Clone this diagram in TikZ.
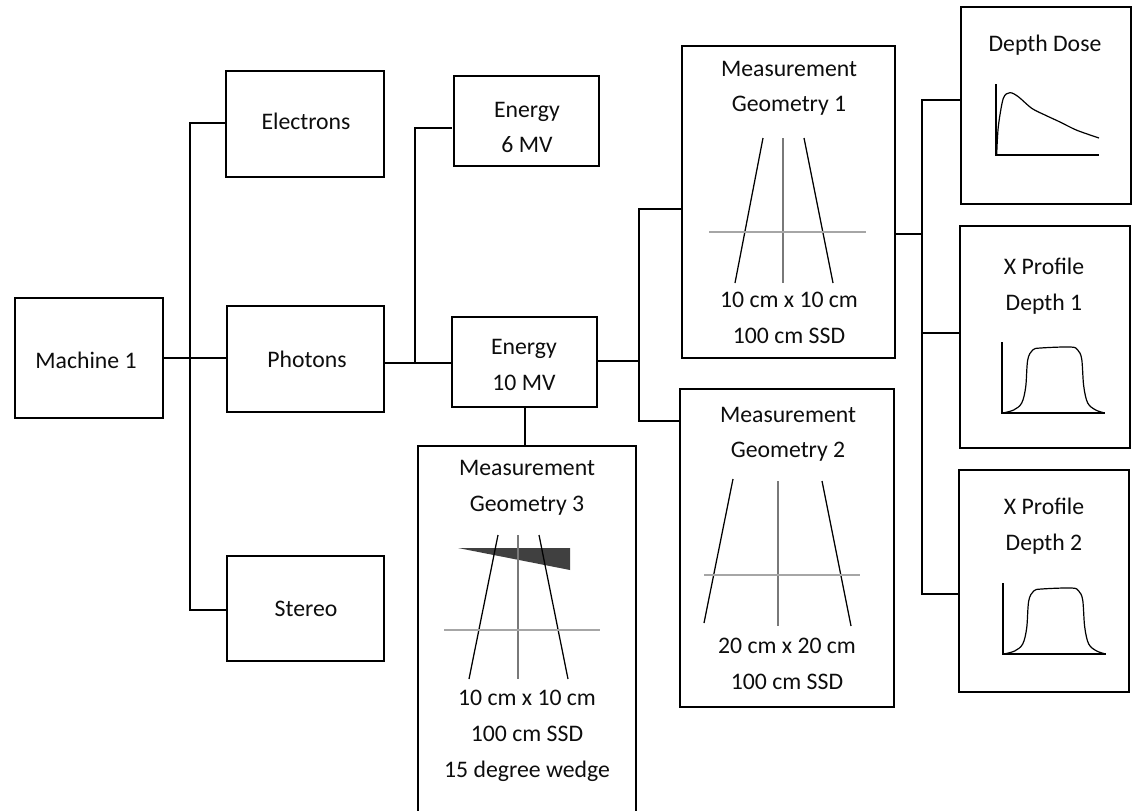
\documentclass[tikz,border=0pt]{standalone}
\usepackage{fontspec}
\setmainfont{Carlito}
\tikzset{
  boxs/.style={draw=black,line width=1.5pt,fill=none,rectangle,inner sep=0pt,outer sep=0pt},
  txt/.style={align=center,inner sep=0pt,yshift=-1.4pt,text=black!95,font=\fontsize{17.8}{26.8}\selectfont},
  conn/.style={draw=black,line width=1.5pt,line cap=rect},
  beam/.style={draw=black,line width=0.95pt},
  axisv/.style={draw=gray!95!black,line width=1.5pt},
  axish/.style={draw=gray!70,line width=1.5pt},
  plotaxis/.style={draw=black,line width=1.5pt},
  curve/.style={draw=black,line width=0.9pt},
}
\newcommand{\bx}[5]{\node[boxs,minimum width={(#4-#2)*0.75pt},minimum height={(#5-#3)*0.75pt}] (#1) at ({(#2+#4)/2},{(#3+#5)/2}) {};}
\newcommand{\profile}[2]{\begin{scope}[shift={(#1,#2)}]
  \draw[plotaxis] (0,-71) -- (0,0) -- (103,0);
  \draw[curve] plot[smooth,tension=0.55] coordinates {(1,0) (12,-3) (20,-10) (24,-26) (26,-53) (31,-63) (39,-65) (69,-66) (76,-63) (80,-54) (82,-27) (86,-10) (94,-3) (103,0)};
\end{scope}}
\newcommand{\geom}[8]{% x-left top, x-left bottom, x-right top, x-right bottom, xc, ytop, ybot; hline
  \draw[beam] (#1,#6) -- (#2,#7);
  \draw[beam] (#3,#6) -- (#4,#7);
  \draw[axisv] (#5,#6) -- (#5,#7);
  #8}
\begin{document}
\begin{tikzpicture}[x=0.75pt,y=-0.75pt]
\useasboundingbox (0,0) rectangle (1133,811);
\clip (0,0) rectangle (1133,811);
\bx{machine}{15}{298}{163}{418}
\bx{electrons}{226}{71}{384}{177}
\bx{photons}{227}{306}{384}{412}
\bx{stereo}{227}{556}{384}{661}
\bx{esix}{454}{76}{599}{166}
\bx{eten}{452}{317}{597}{407}
\bx{gthree}{418}{446}{636}{840}
\bx{gone}{682}{46}{895}{358}
\bx{gtwo}{680}{389}{894}{707}
\bx{dose}{961}{7}{1131}{204}
\bx{xone}{960}{226}{1130}{448}
\bx{xtwo}{959}{470}{1129}{692}

\node[txt] (tmachine) at (86,358) {Machine 1};
\node[txt] (telectrons) at (306,119) {Electrons};
\node[txt] (tphotons) at (307,357) {Photons};
\node[txt] (tstereo) at (306,607) {Stereo};
\node[txt] (tesix) at (527,125.5) {Energy\\6 MV};
\node[txt] (teten) at (524,363) {Energy\\10 MV};
\node[txt] (tgonea) at (789,86.5) {Measurement\\Geometry 1};
\node[txt] (tgoneb) at (789,316) {10 cm x 10 cm\\100 cm SSD};
\node[txt] (tgtwoa) at (788,432.5) {Measurement\\Geometry 2};
\node[txt] (tgtwob) at (787,662) {20 cm x 20 cm\\100 cm SSD};
\node[txt] (tgthreea) at (527,486) {Measurement\\Geometry 3};
\node[txt] (tgthreeb) at (527,734) {10 cm x 10 cm\\100 cm SSD\\15 degree wedge};
\node[txt] (tdose) at (1045,43) {Depth Dose};
\node[txt] (txone) at (1044,284) {X Profile\\Depth 1};
\node[txt] (txtwo) at (1044,524) {X Profile\\Depth 2};

% connector junctions
\coordinate (ja) at (190,358);
\coordinate (jb) at (415,363);
\coordinate (jc) at (638.5,361);
\coordinate (jd) at (922,234);
\draw[conn] (machine.east |- ja) -- (photons.west |- ja);
\draw[conn] (electrons.west |- 0,123) -| (ja) |- (stereo.west |- 0,610);
\draw[conn] (photons.east |- jb) -- (eten.west |- jb);
\draw[conn] (451,128) -| (jb);
\draw[conn] (eten.east |- jc) -- (jc);
\draw[conn] (gone.west |- 0,209) -| (jc) |- (gtwo.west |- 0,421);
\draw[conn] (eten.south -| 525,0) -- (gthree.north -| 525,0);
\draw[conn] (gone.east |- jd) -- (jd);
\draw[conn] (dose.west |- 0,100) -| (jd);
\draw[conn] (jd) |- (xtwo.west |- 0,594);
\draw[conn] (jd |- 0,333) -- (xone.west |- 0,333);

% geometry 1
\geom{763}{735}{804}{833}{783}{138}{283}{\draw[axish] (709,232) -- (866,232);}
% geometry 2
\draw[beam] (733,479) -- (704,623);
\draw[beam] (822,481) -- (851,626);
\draw[axisv] (778,481) -- (778,626);
\draw[axish] (704,575) -- (860,575);
% geometry 3
\fill[black!75] (458,548) -- (570,548) -- (570,570) -- cycle;
\geom{498}{469}{539}{568}{518}{535}{679}{\draw[axish] (444,630) -- (600,630);}

% depth dose plot
\draw[plotaxis] (996,84) -- (996,155) -- (1099,155);
\draw[curve] plot[smooth,tension=0.5] coordinates {(996.7,154.7) (998.3,126.7) (1003.3,98.3) (1010,92.7) (1018.3,96.7) (1031.7,108.3) (1046,115.5) (1060,122) (1076.7,130.2) (1099,138)};
\profile{1001.7}{413}
\profile{1002.7}{654}
\end{tikzpicture}
\end{document}
